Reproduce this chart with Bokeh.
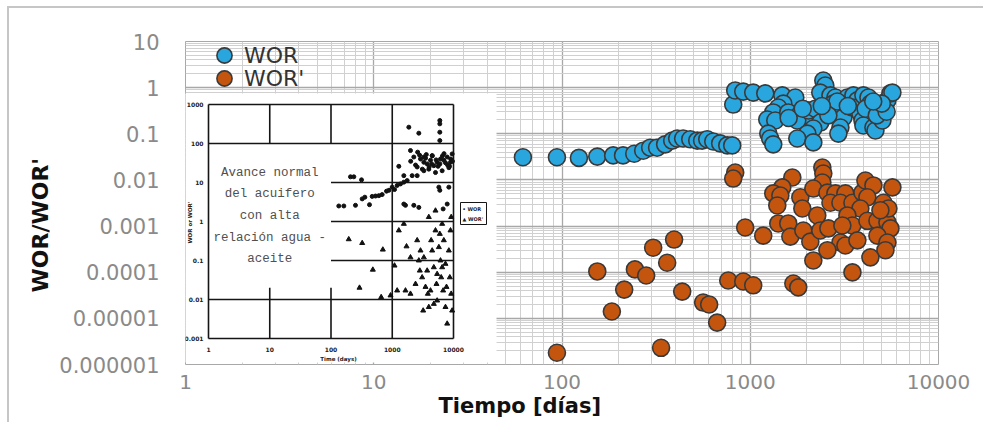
import math

from bokeh.core.properties import value
from bokeh.embed import file_html
from bokeh.models import (ColumnDataSource, CustomJSTickFormatter, FixedTicker, Label,
                          LabelSet, Legend, LegendItem, LogScale, Range1d, Title)
from bokeh.plotting import figure
from bokeh.resources import INLINE

# ---------------------------------------------------------------- data
# WOR (water-oil ratio) against time in days
wor_t = [62, 94, 123, 154, 187, 211, 242, 270, 294, 320, 353, 385, 409, 440, 480,
         523, 555, 591, 636, 692, 755, 802,
         812, 832, 918, 1037, 1202, 1480, 1735, 1499, 1409, 1325, 1231, 1358, 1592,
         1845, 1963, 1778, 2036, 2218, 2355, 2163, 2010, 1778, 2163, 1247, 1276, 1325,
         2444, 2505, 2355, 2667, 2833, 2762, 3126, 3126, 3013, 2938, 3281, 3531, 3707,
         3490, 3990, 4245, 4348, 3846, 3945, 3990, 4511, 4624, 4914, 5097, 5354, 5555,
         5690, 5036,
         2900, 3300, 4100, 4700, 5300, 5000, 4500, 2600, 2400, 1600, 1900]
wor = [0.031, 0.031, 0.030, 0.032, 0.034, 0.034, 0.037, 0.043, 0.050, 0.050, 0.059,
       0.071, 0.079, 0.079, 0.076, 0.071, 0.071, 0.076, 0.068, 0.062, 0.056, 0.056,
       0.43, 0.87, 0.82, 0.78, 0.75, 0.68, 0.61, 0.45, 0.37, 0.29, 0.204, 0.194, 0.29,
       0.275, 0.194, 0.194, 0.32, 0.35, 0.175, 0.130, 0.101, 0.079, 0.065, 0.101, 0.079,
       0.059,
       1.43, 1.11, 0.78, 0.68, 0.61, 0.45, 0.32, 0.225, 0.137, 0.101, 0.61, 0.68, 0.53,
       0.37, 0.68, 0.61, 0.45, 0.275, 0.194, 0.151, 0.137, 0.118, 0.275, 0.37, 0.53,
       0.75, 0.78, 0.194,
       0.5, 0.4, 0.35, 0.25, 0.30, 0.45, 0.5, 0.25, 0.4, 0.22, 0.35]

# WOR' (derivative of the water-oil ratio)
worp_t = [94, 154, 184, 214, 244, 280, 305, 394, 362, 336, 435, 562, 605, 667, 764,
          918, 1037, 940, 1694, 1799, 3490,
          832, 812, 1673, 2415, 2444, 2415, 1480, 1325, 1445, 1392, 1845, 2163, 1891,
          2270, 2570, 2833, 3201, 2667, 3013, 3490, 3945, 4090, 4511, 5690, 4190, 5097,
          3846, 3281, 3490, 4190, 4739, 5354, 5555, 5420, 4914,
          1172, 1409, 1592, 1633, 1914, 2085, 2355, 2600, 3085, 3013, 3201, 3707, 4739,
          5354, 5224, 4348, 2570, 2163]
worp = [1.8e-6, 1.04e-4, 1.41e-5, 4.2e-5, 1.15e-4, 8.5e-5, 3.4e-4, 5.1e-4, 1.6e-4,
        2.3e-6, 3.8e-5, 2.2e-5, 2.0e-5, 8.1e-6, 6.6e-5, 6.3e-5, 5.2e-5, 9.3e-4, 5.7e-5,
        4.7e-5, 9.9e-5,
        0.0145, 0.0107, 0.0113, 0.0186, 0.0138, 0.0088, 0.0069, 0.0051, 0.0046, 0.0028,
        0.0042, 0.0065, 0.0024, 0.0017, 0.0053, 0.0051, 0.0051, 0.0032, 0.0032, 0.0032,
        0.0053, 0.0097, 0.0076, 0.0069, 0.0042, 0.0032, 0.0024, 0.0017, 0.00103, 0.0013,
        0.0013, 0.0012, 0.00089, 0.0024, 0.0022,
        0.00062, 0.00114, 0.00114, 0.00059, 0.0008, 0.00046, 0.0008, 0.00089, 0.00103,
        0.00044, 0.00038, 0.00049, 0.00062, 0.00044, 0.0003, 0.00021, 0.0003, 0.00018]

x_ticks = [1, 10, 100, 1000, 10000]
x_tick_labels = ["1", "10", "100", "1000", "10000"]
y_ticks = [1e-6, 1e-5, 1e-4, 1e-3, 1e-2, 1e-1, 1, 10]
y_tick_labels = ["0.000001", "0.00001", "0.0001", "0.001", "0.01", "0.1", "1", "10"]

# reference chart shown as an inset (normal aquifer advance, high water-oil ratio)
inset_wor_t = [134, 162, 208, 236, 315, 251, 323, 357, 425, 470, 533, 604, 684, 806,
               880, 997, 1089, 1203, 1365, 1546, 1752, 1280, 1866, 2716, 2553, 2115,
               1985, 2250, 2893, 3281, 3717, 4210, 4771, 5408, 6134, 6950, 7888, 8933,
               9508, 3281, 3953, 5082, 6531, 8395, 2553, 5978, 5978, 5978, 5978, 5768,
               5978, 8395, 2250, 2716, 1546, 1644, 6778, 7888, 3281, 4487, 1546,
               2000, 2400, 2800, 3500, 4000, 4500, 5200, 6000, 7000, 8000, 9000, 2600,
               3100, 3600, 4400, 5600, 6600, 7400, 8600, 9600]
inset_wor = [2.5, 2.5, 14, 14, 11.7, 2.6, 3.8, 4.2, 2.7, 4.4, 4.5, 4.6, 4.9, 6.0, 6.3,
             7.6, 6.6, 8.4, 9.2, 10.2, 11.2, 26, 262, 184, 15, 15, 66, 45, 40, 33, 30,
             37, 27, 33, 40, 37, 45, 33, 54, 20, 22, 18, 20, 24, 25, 389, 319, 195, 119,
             7.6, 6.3, 7.6, 2.6, 2.3, 2.8, 2.6, 2.1, 2.8, 45, 49, 15,
             35, 28, 50, 42, 25, 48, 38, 30, 55, 28, 40, 60, 22, 52, 30, 26, 48, 32, 26,
             35]
inset_worp_t = [195, 323, 292, 482, 702, 659, 937, 1089, 1280, 1710, 1546, 1985, 1203,
                1644, 1985, 2553, 2716, 2893, 3077, 3199, 3717, 3953, 4210, 4487, 4771,
                5082, 5277, 5408, 5768, 6134, 6295, 6531, 6778, 6950, 7396, 7396, 7888,
                8395, 8710, 8933, 9162, 3281, 3491, 4771, 3811, 5408, 6531, 7690, 2399,
                2818, 4315, 5978, 3953, 5082, 9162, 9508]
inset_worp = [0.35, 0.28, 0.020, 0.058, 0.19, 0.0115, 0.0127, 0.074, 0.59, 0.23, 0.87,
              0.12, 0.017, 0.017, 0.014, 0.33, 0.1, 0.18, 0.037, 0.0052, 0.055, 0.0064,
              0.017, 0.18, 0.067, 0.59, 0.025, 0.0094, 0.22, 0.1, 0.037, 0.87, 0.017,
              0.33, 0.082, 0.0064, 0.0024, 0.18, 0.037, 0.59, 0.014, 0.12, 0.021,
              0.0077, 0.014, 0.045, 0.067, 0.021, 0.025, 0.055, 0.33, 0.48, 1.3, 1.9,
              1.3, 0.0052]
inset_x_ticks = [1, 10, 100, 1000, 10000]
inset_x_labels = ["1", "10", "100", "1000", "10000"]
inset_y_ticks = [0.001, 0.01, 0.1, 1, 10, 100, 1000]
inset_y_labels = ["0.001", "0.01", "0.1", "1", "10", "100", "1000"]
inset_note = ["Avance normal", "del acuifero", "con alta", "relación agua -", "aceite"]

# ---------------------------------------------------------------- layout
W, H = 983, 422
FL, FR, FT, FB = 185, 938, 41, 364          # plot frame edges on the canvas

# inset placement: pixel of x=1 / y=0.001 and pixels per decade
IX0, IDX = 208, 61.25
IY0, IDY = 338, 39.0


def ix(px):
    return 10 ** ((px - IX0) / IDX)


def iy(py):
    return 10 ** ((IY0 - py) / IDY - 3)


p = figure(width=W, height=H, x_axis_type="log", y_axis_type="log",
           x_range=Range1d(1, 10000), y_range=Range1d(1e-6, 10),
           output_backend="svg", toolbar_location=None,
           min_border_left=FL, min_border_right=W - FR,
           min_border_top=FT, min_border_bottom=H - FB)
p.background_fill_color = "white"
p.border_fill_color = None
# thin light frame drawn behind the canvas, offset from the top-left corner
p.styles = {"background": "linear-gradient(#c6c6c6, #c6c6c6) 8px 6px / 100% 2px no-repeat, "
                          "linear-gradient(#c6c6c6, #c6c6c6) 7px 6px / 2px 100% no-repeat, "
                          "white"}
p.outline_line_color = "#a8a8a8"

p.extra_x_ranges = {"inset": Range1d(ix(FL), ix(FR))}
p.extra_y_ranges = {"inset": Range1d(iy(FB), iy(FT))}
p.extra_x_scales = {"inset": LogScale()}
p.extra_y_scales = {"inset": LogScale()}

# axes, ticks and grid
label_js = """
for (let i = 0; i < tick_values.length; i++) {
    if (Math.abs(Math.log10(tick) - Math.log10(tick_values[i])) < 1e-6) return tick_names[i];
}
return "";
"""
x_minor = [m * t for t in x_ticks[:-1] for m in range(2, 10)]
y_minor = [m * t for t in y_ticks[:-1] for m in range(2, 10)]
xt = FixedTicker(ticks=x_ticks, minor_ticks=x_minor)
yt = FixedTicker(ticks=y_ticks, minor_ticks=y_minor)
p.xaxis.ticker = xt
p.yaxis.ticker = yt
p.xgrid.ticker = xt
p.ygrid.ticker = yt
p.xaxis.formatter = CustomJSTickFormatter(
    args=dict(tick_values=x_ticks, tick_names=x_tick_labels), code=label_js)
p.yaxis.formatter = CustomJSTickFormatter(
    args=dict(tick_values=y_ticks, tick_names=y_tick_labels), code=label_js)

for ax in (p.xaxis, p.yaxis):
    ax.axis_line_color = None
    ax.major_tick_line_color = None
    ax.minor_tick_line_color = None
    ax.major_tick_out = 0
    ax.minor_tick_out = 0
    ax.major_label_text_font = "DejaVu Sans"
    ax.major_label_text_color = "#8a8a8a"
p.xaxis.major_label_text_font_size = "20px"
p.yaxis.major_label_text_font_size = "21px"
p.xaxis.major_label_standoff = 10
p.yaxis.major_label_standoff = 26

for g in (p.xgrid, p.ygrid):
    g.grid_line_color = "#a8a8a8"
    g.grid_line_width = 1.3
    g.minor_grid_line_color = "#d0d0d0"
    g.minor_grid_line_width = 1

# axis titles, set in the side panels (offset measured from the frame's low end)
p.add_layout(Title(text="WOR/WOR'", align="left", offset=72, standoff=8,
                   text_font="DejaVu Sans", text_font_style="bold",
                   text_font_size="22px", text_color="#111111"), "left")
p.add_layout(Title(text="Tiempo [días]", align="left", offset=253, standoff=0,
                   text_font="DejaVu Sans", text_font_style="bold",
                   text_font_size="21px", text_color="#111111"), "below")

# ---------------------------------------------------------------- inset chart
IN = dict(x_range_name="inset", y_range_name="inset")
p.quad(left=[ix(172)], right=[ix(496)], top=[iy(93)], bottom=[iy(362)],
       fill_color="white", line_color=None, **IN)

x_lo, x_hi = inset_x_ticks[0], inset_x_ticks[-1]
y_lo, y_hi = inset_y_ticks[0], inset_y_ticks[-1]
seg_x0, seg_y0, seg_x1, seg_y1 = [], [], [], []
# horizontal lines: full width for 0.001, 0.01, 100, 1000; from 100 days otherwise
for yv in inset_y_ticks:
    start = x_lo if yv in (0.001, 0.01, 100, 1000) else 100
    seg_x0.append(start); seg_x1.append(x_hi); seg_y0.append(yv); seg_y1.append(yv)
# vertical lines: frame and 1000 full height, 10 and 100 only top and bottom bands
for xv in inset_x_ticks:
    if xv in (1, 1000, 10000):
        seg_x0.append(xv); seg_x1.append(xv); seg_y0.append(y_lo); seg_y1.append(y_hi)
    else:
        seg_x0 += [xv, xv]; seg_x1 += [xv, xv]
        seg_y0 += [100, y_lo]; seg_y1 += [y_hi, 0.02]
p.segment(seg_x0, seg_y0, seg_x1, seg_y1, line_color="#151515", line_width=1.6, **IN)

p.scatter(inset_wor_t, inset_wor, marker="circle", size=4, fill_color="#111111",
          line_color="#111111", **IN)
p.scatter(inset_worp_t, inset_worp, marker="triangle", size=5, fill_color="#111111",
          line_color="#111111", **IN)

note_y = [iy(172), iy(193), iy(215), iy(237), iy(258)]
p.text(x=[10] * len(inset_note), y=note_y, text=inset_note,
       text_font=value("Liberation Mono"), text_font_size="12.5px",
       text_color="#505050", text_align="center", text_baseline="middle", **IN)

tick_font = dict(text_font=value("DejaVu Sans"), text_font_style="bold",
                 text_font_size="6px", text_color="#222222")
ysrc = ColumnDataSource(dict(x=[ix(203)] * len(inset_y_ticks), y=inset_y_ticks,
                             t=inset_y_labels))
p.add_layout(LabelSet(x="x", y="y", text="t", source=ysrc, text_align="right",
                      text_baseline="middle", **tick_font, **IN))
xsrc = ColumnDataSource(dict(x=inset_x_ticks, y=[iy(349)] * len(inset_x_ticks),
                             t=inset_x_labels))
p.add_layout(LabelSet(x="x", y="y", text="t", source=xsrc, text_align="center",
                      text_baseline="middle", **tick_font, **IN))
p.add_layout(Label(x=ix(189), y=iy(222), text="WOR or WOR'", angle=math.pi / 2,
                   text_align="center", text_baseline="middle", text_font="DejaVu Sans",
                   text_font_style="bold", text_font_size="5.5px", text_color="#222222",
                   **IN))
p.add_layout(Label(x=ix(338), y=iy(358), text="Time (days)", text_align="center",
                   text_baseline="middle", text_font="DejaVu Sans",
                   text_font_style="bold", text_font_size="5.5px", text_color="#222222",
                   **IN))

# inset legend box
p.quad(left=[ix(460)], right=[ix(486)], top=[iy(202)], bottom=[iy(224)],
       fill_color="white", line_color="#151515", line_width=1, **IN)
p.add_layout(Label(x=ix(462), y=iy(208), text="• WOR", text_baseline="middle",
                   text_font="DejaVu Sans", text_font_style="bold",
                   text_font_size="5px", text_color="#222222", **IN))
p.add_layout(Label(x=ix(462), y=iy(218), text="▲ WOR'", text_baseline="middle",
                   text_font="DejaVu Sans", text_font_style="bold",
                   text_font_size="5px", text_color="#222222", **IN))

# ---------------------------------------------------------------- main series
r_wor = p.scatter(wor_t, wor, marker="circle", size=17, fill_color="#29a6de",
                  line_color="#3a3a3a", line_width=1.6)
r_worp = p.scatter(worp_t, worp, marker="circle", size=17, fill_color="#c4550e",
                   line_color="#3a3a3a", line_width=1.6)

for item_label, rend, top in (("WOR", r_wor, 36), ("WOR'", r_worp, 59)):
    leg = Legend(items=[LegendItem(label=item_label, renderers=[rend])],
                 location=(20, FB - (top + 38)), padding=0, margin=0, spacing=0,
                 glyph_width=38, glyph_height=38, label_height=38, label_standoff=1,
                 label_text_font="DejaVu Sans", label_text_font_size="22px",
                 label_text_color="#333333", background_fill_alpha=0,
                 border_line_color=None)
    p.add_layout(leg)

open("out.html", "w").write(file_html(p, INLINE))
